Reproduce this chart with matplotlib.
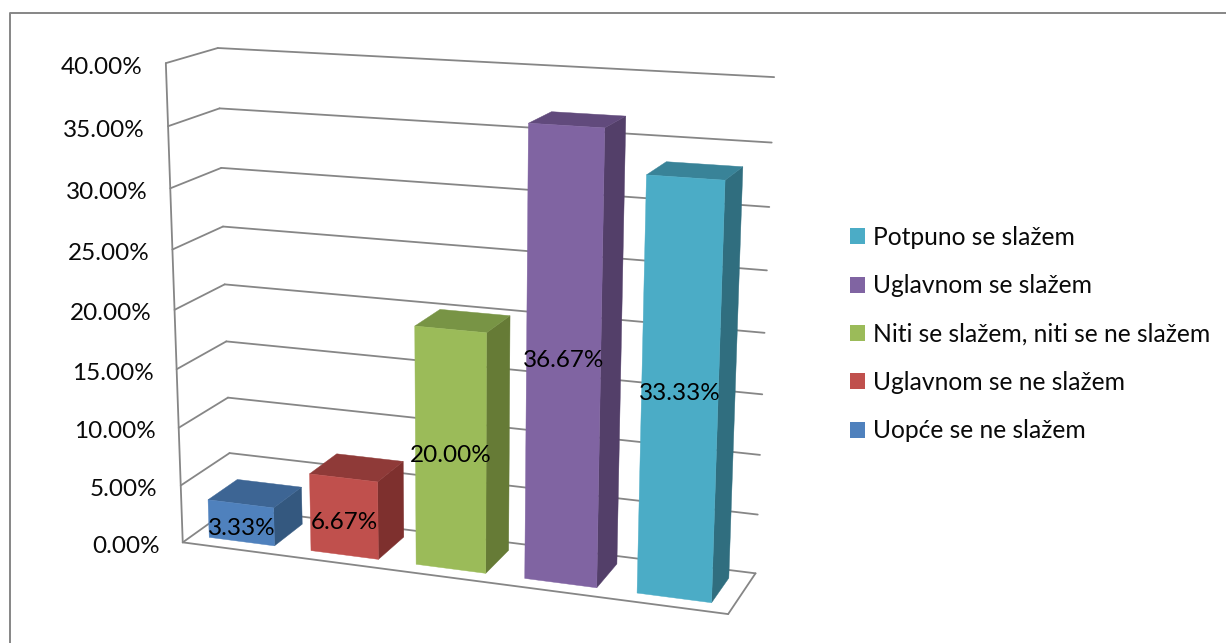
"""Rebuild the 3D column chart on a flat axes using a fitted camera projection."""

from __future__ import annotations

import matplotlib

matplotlib.use("Agg")

import matplotlib.pyplot as plt
import numpy as np
from matplotlib.patches import Patch

categories = [
    "Uopće se ne slažem",
    "Uglavnom se ne slažem",
    "Niti se slažem, niti se ne slažem",
    "Uglavnom se slažem",
    "Potpuno se slažem",
]
values = [3.33, 6.67, 20.00, 36.67, 33.33]
value_labels = ["3.33%", "6.67%", "20.00%", "36.67%", "33.33%"]
tick_values = [0, 5, 10, 15, 20, 25, 30, 35, 40]
tick_labels = ["0.00%", "5.00%", "10.00%", "15.00%", "20.00%", "25.00%", "30.00%", "35.00%", "40.00%"]

front_colors = ["#4F81BD", "#C0504D", "#9BBB59", "#8064A2", "#4BACC6"]
side_colors = ["#34587F", "#7E302E", "#667B36", "#533F69", "#306E7F"]
top_colors = ["#3D6594", "#8F3A38", "#789445", "#614A7C", "#398398"]

GRID = "#868686"
FONT = "Lato"

# where the box corners and grid levels sit on the canvas, used to fit the camera
front_left_y = [542, 486, 428, 369, 310, 250, 188, 126, 63]
front_left_x = [182, 181, 179, 177, 175, 172, 171, 168, 165]
back_left_y = [507, 453, 398, 342, 284, 227, 168, 108, 48]
back_left_x = [231, 229, 228, 226, 225, 223, 222, 219, 218]
back_right_y = [573, 515, 456, 393, 333, 270, 207, 143, 77]
back_right_x = [756, 758, 760, 762, 764, 767, 769, 772, 774]
front_right = (728, 614)


def fit_camera() -> np.ndarray:
    """Least squares fit of a 3x4 projective matrix (u, d, v) -> canvas pixels."""
    world, image = [], []
    for i, v in enumerate(tick_values):
        level = v / 40.0
        world += [(0, 0, level), (0, 1, level), (1, 1, level)]
        image += [
            (front_left_x[i], front_left_y[i]),
            (back_left_x[i], back_left_y[i]),
            (back_right_x[i], back_right_y[i]),
        ]
    world.append((1, 0, 0))
    image.append(front_right)

    rows, rhs = [], []
    for (u, d, v), (px, py) in zip(world, image):
        rows.append([u, d, v, 1, 0, 0, 0, 0, -px * u, -px * d, -px * v])
        rhs.append(px)
        rows.append([0, 0, 0, 0, u, d, v, 1, -py * u, -py * d, -py * v])
        rhs.append(py)
    coef = np.linalg.lstsq(np.array(rows, float), np.array(rhs, float), rcond=None)[0]
    return np.append(coef, 1.0).reshape(3, 4)


CAM = fit_camera()


def project(u: float, d: float, value: float) -> tuple[float, float]:
    """Box coordinates (value in percent) to canvas pixels."""
    p = CAM @ np.array([u, d, value / 40.0, 1.0])
    return p[0] / p[2], p[1] / p[2]


def edge(ax, a, b) -> None:
    """Draw one box line between two projected points."""
    ax.plot([a[0], b[0]], [a[1], b[1]], color=GRID, lw=1.3, solid_capstyle="round", zorder=1)


def draw_box(ax) -> None:
    for v in tick_values:
        edge(ax, project(0, 0, v), project(0, 1, v))
        edge(ax, project(0, 1, v), project(1, 1, v))
    edge(ax, project(0, 0, 0), project(0, 0, 40))
    edge(ax, project(0, 0, 0), project(1, 0, 0))
    edge(ax, project(1, 0, 0), project(1, 1, 0))

    for v, label in zip(tick_values, tick_labels):
        x, y = project(0, 0, v)
        ax.text(x - 23, y + 4, label, ha="right", va="center", fontsize=17.5, family=FONT, color="#0A0A0A")


def draw_bars(ax) -> None:
    n = len(values)
    bar_w = 0.645 / n
    d0, d1 = 0.2, 0.81
    for i, v in enumerate(values):
        u0 = (i + 0.165) / n
        u1 = u0 + bar_w
        # side and top go down first, the front face covers their seams
        side = [project(u1, d0, 0), project(u1, d1, 0), project(u1, d1, v), project(u1, d0, v)]
        top = [project(u0, d0, v), project(u1, d0, v), project(u1, d1, v), project(u0, d1, v)]
        front = [project(u0, d0, 0), project(u1, d0, 0), project(u1, d0, v), project(u0, d0, v)]
        for poly, color in ((side, side_colors[i]), (top, top_colors[i]), (front, front_colors[i])):
            xs, ys = zip(*poly)
            ax.fill(xs, ys, facecolor=color, edgecolor=color, lw=0.3, zorder=2 + i)
        cx = np.mean([p[0] for p in front])
        cy = np.mean([p[1] for p in front])
        ax.text(cx, cy + 6, value_labels[i], ha="center", va="center", fontsize=17.5, family=FONT,
                color="black", zorder=10)


def main() -> None:
    fig = plt.figure(figsize=(12.26, 6.43), dpi=100)
    ax = fig.add_axes([0, 0, 1, 1])
    ax.set_xlim(0, 1226)
    ax.set_ylim(643, 0)
    ax.axis("off")

    # chart frame is cut by the bottom and right of the picture
    ax.plot([10, 10, 1226], [643, 13, 13], color=GRID, lw=1.4, zorder=0)

    draw_box(ax)
    draw_bars(ax)

    handles = [Patch(facecolor=c, edgecolor="none") for c in front_colors[::-1]]
    ax.legend(
        handles,
        categories[::-1],
        loc="upper left",
        bbox_to_anchor=(850 / 1226, 1 - 226 / 643),
        borderpad=0,
        borderaxespad=0,
        frameon=False,
        prop={"family": FONT, "size": 17.7},
        handlelength=0.61,
        handleheight=0.61,
        handletextpad=0.33,
        labelspacing=1.03,
        labelcolor="#0A0A0A",
    )

    fig.savefig("out.png", dpi=100)
    plt.close(fig)


if __name__ == "__main__":
    main()
